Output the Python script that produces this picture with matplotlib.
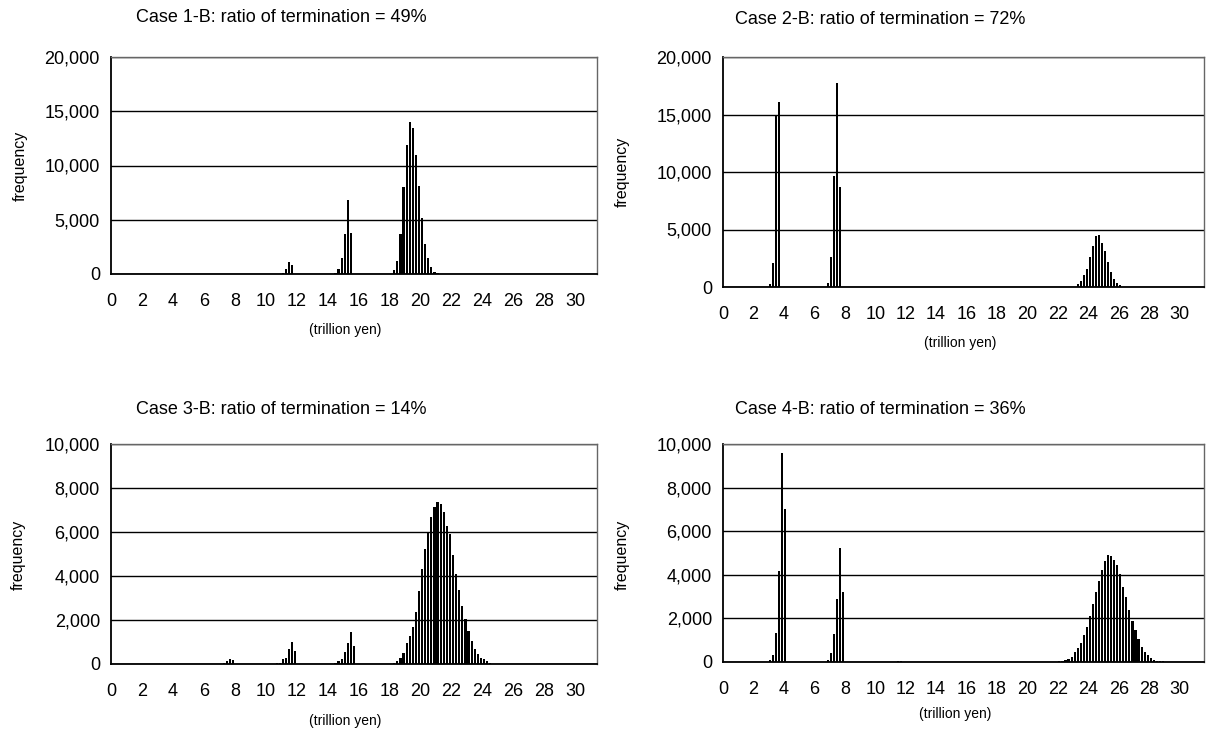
import matplotlib
matplotlib.use('Agg')
from matplotlib import pyplot as plt
from matplotlib.ticker import StrMethodFormatter

plt.rcParams['font.family'] = ['Liberation Sans', 'DejaVu Sans']

# bin centres (trillion yen) and frequencies
case1_x = [11.1, 11.3, 11.5, 11.7,
           14.5, 14.7, 14.9, 15.1, 15.3, 15.5,
           18.3, 18.5, 18.7, 18.9, 19.1, 19.3, 19.5, 19.7, 19.9, 20.1,
           20.3, 20.5, 20.7, 20.9, 21.1]
case1_n = [100, 460, 1100, 860,
           100, 430, 1500, 3700, 6850, 3800,
           370, 1170, 3670, 8000, 11850, 14000, 13500, 11000, 8100, 5150,
           2800, 1500, 600, 200, 100]

case2_x = [3.1, 3.3, 3.5, 3.7,
           6.9, 7.1, 7.3, 7.5, 7.7,
           23.3, 23.5, 23.7, 23.9, 24.1, 24.3, 24.5, 24.7, 24.9, 25.1,
           25.3, 25.5, 25.7, 25.9, 26.1]
case2_n = [260, 2100, 15000, 16060,
           350, 2580, 9680, 17740, 8670,
           230, 520, 1040, 1600, 2600, 3600, 4400, 4500, 3860, 3130,
           2140, 1330, 720, 380, 150]

case3_x = [7.3, 7.5, 7.7, 7.9,
           10.7, 10.9, 11.1, 11.3, 11.5, 11.7, 11.9,
           14.5, 14.7, 14.9, 15.1, 15.3, 15.5, 15.7,
           18.3, 18.5, 18.7, 18.9, 19.1, 19.3, 19.5, 19.7, 19.9, 20.1,
           20.3, 20.5, 20.7, 20.9, 21.1, 21.3, 21.5, 21.7, 21.9, 22.1,
           22.3, 22.5, 22.7, 22.9, 23.1, 23.3, 23.5, 23.7, 23.9, 24.1,
           24.3, 24.5]
case3_n = [50, 120, 230, 180,
           50, 50, 210, 290, 680, 1020, 580,
           50, 140, 240, 550, 940, 1470, 820,
           50, 140, 290, 500, 950, 1270, 1700, 2380, 3320, 4320,
           5240, 5980, 6670, 7120, 7380, 7270, 6920, 6270, 5920, 4950,
           4090, 3360, 2650, 2050, 1520, 1050, 700, 440, 290, 210,
           120, 50]

case4_x = [3.1, 3.3, 3.5, 3.7, 3.9, 4.1,
           6.9, 7.1, 7.3, 7.5, 7.7, 7.9,
           11.5, 11.7,
           22.1, 22.3, 22.5, 22.7, 22.9, 23.1, 23.3, 23.5, 23.7, 23.9,
           24.1, 24.3, 24.5, 24.7, 24.9, 25.1, 25.3, 25.5, 25.7, 25.9,
           26.1, 26.3, 26.5, 26.7, 26.9, 27.1, 27.3, 27.5, 27.7, 27.9,
           28.1, 28.3, 28.5, 28.7, 28.9]
case4_n = [80, 300, 1330, 4190, 9590, 7000,
           100, 430, 1300, 2900, 5250, 3220,
           30, 30,
           50, 60, 100, 150, 250, 450, 650, 850, 1250, 1600,
           2100, 2650, 3200, 3700, 4200, 4650, 4900, 4850, 4700, 4450,
           4050, 3450, 3000, 2400, 1900, 1450, 1050, 700, 450, 300,
           200, 100, 50, 50, 50]

titles = ['Case 1-B: ratio of termination = 49%',
          'Case 2-B: ratio of termination = 72%',
          'Case 3-B: ratio of termination = 14%',
          'Case 4-B: ratio of termination = 36%']

W, H = 1207, 742
fig = plt.figure(figsize=(W / 100, H / 100), dpi=100)


def px_axes(left, top, right, bottom):
    return fig.add_axes([left / W, 1 - bottom / H, (right - left) / W, (bottom - top) / H])


panels = [
    # x, n, axes box (px), xmax, ymax, ystep, title pos, xlabel pos, ylabel pos
    (case1_x, case1_n, (111, 57, 597, 274), 31.4, 20000, 5000, (136, 18), (345, 330), (20, 166)),
    (case2_x, case2_n, (723, 57, 1204, 287), 31.6, 20000, 5000, (735, 20), (960, 343), (622, 172)),
    (case3_x, case3_n, (111, 444, 597, 664), 31.4, 10000, 2000, (136, 410), (345, 721), (18, 555)),
    (case4_x, case4_n, (723, 444, 1204, 662), 31.6, 10000, 2000, (735, 410), (955, 714), (622, 555)),
]

for (xs, ns, box, xmax, ymax, ystep, tpos, xlpos, ylpos), title in zip(panels, titles):
    ax = px_axes(*box)
    ax.set_axisbelow(True)
    ax.bar(xs, ns, width=0.14, color='black', linewidth=0)
    ax.set_xlim(0, xmax)
    ax.set_ylim(0, ymax)
    ax.set_xticks(range(0, 31, 2))
    ax.set_yticks(range(0, ymax + 1, ystep))
    ax.yaxis.set_major_formatter(StrMethodFormatter('{x:,.0f}'))
    ax.tick_params(axis='x', length=0, pad=14, labelsize=13)
    ax.tick_params(axis='y', length=0, pad=8, labelsize=13)
    ax.grid(axis='y', color='black', linewidth=1)
    for side in ('left', 'bottom'):
        ax.spines[side].set_color('black')
        ax.spines[side].set_linewidth(1.3)
    for side in ('top', 'right'):
        ax.spines[side].set_color('#666666')
        ax.spines[side].set_linewidth(1.0)
    fig.text(tpos[0] / W, 1 - tpos[1] / H, title, ha='left', va='center', fontsize=13)
    fig.text(xlpos[0] / W, 1 - xlpos[1] / H, '(trillion yen)', ha='center', va='center', fontsize=10)
    fig.text(ylpos[0] / W, 1 - ylpos[1] / H, 'frequency', ha='center', va='center',
             rotation=90, fontsize=11.5)

fig.savefig('out.png', dpi=100)
